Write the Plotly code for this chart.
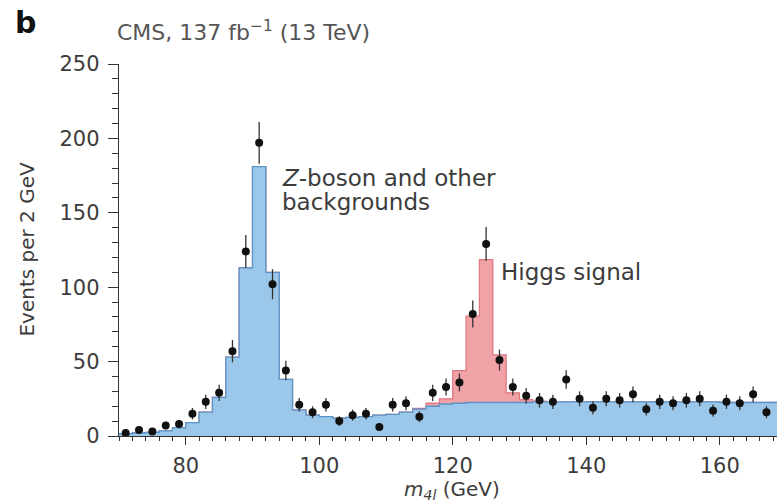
import plotly.graph_objects as go

# ---- data ----
bin_left_edges = list(range(70, 170, 2))          # 2 GeV bins, 70..170
bin_centers = [e + 1 for e in bin_left_edges]

background = [1.5, 2, 2.5, 3.5, 5.5, 9, 16, 26, 53, 113,
              181, 110, 38, 17.5, 14, 13, 12, 12.5, 13, 14,
              14.5, 16, 18, 20, 21.5, 22, 22.5, 22.5, 22.5, 22.5,
              22.5, 23, 23, 23, 23, 23, 23, 23, 23, 23,
              23, 23, 23, 23, 23, 22.5, 22.5, 22.5, 22.5, 22.5]

signal = [0, 0, 0, 0, 0, 0, 0, 0, 0, 0,
          0, 0, 0, 0, 0, 0, 0, 0, 0, 0,
          0, 0, 0.5, 2, 3.5, 22, 58, 96, 32, 6.5,
          2, 0.5, 0, 0, 0, 0, 0, 0, 0, 0,
          0, 0, 0, 0, 0, 0, 0, 0, 0, 0]

observed = [2, 4, 3, 7, 8, 15, 23, 29, 57, 124,
            197, 102, 44, 21, 16, 21, 10, 14, 15, 6,
            21, 22, 13, 29, 33, 36, 82, 129, 51, 33,
            27, 24, 23, 38, 25, 19, 25, 24, 28, 18,
            23, 22, 24, 25, 17, 23, 22, 28, 16, 32]

obs_err = [1.4, 2.0, 1.7, 2.6, 2.8, 3.9, 4.8, 5.4, 7.5, 11.1,
           14.0, 10.1, 6.6, 4.6, 4.0, 4.6, 3.2, 3.7, 3.9, 2.4,
           4.6, 4.7, 3.6, 5.4, 5.7, 6.0, 9.1, 11.4, 7.1, 5.7,
           5.2, 4.9, 4.8, 6.2, 5.0, 4.4, 5.0, 4.9, 5.3, 4.2,
           4.8, 4.7, 4.9, 5.0, 4.1, 4.8, 4.7, 5.3, 4.0, 5.7]

x_ticks = [80, 100, 120, 140, 160]
y_ticks = [0, 50, 100, 150, 200, 250]

# ---- figure ----
W, H = 777, 504
L, R, T, B = 118.5, 0, 64, 68
PW, PH = W - L - R, H - T - B

def px(xp):
    return (xp - L) / PW

def py(yp):
    return (H - B - yp) / PH

step_x = bin_left_edges + [bin_left_edges[-1] + 2]
total = [b + s for b, s in zip(background, signal)]
total_y = total + [total[-1]]
bg_y = background + [background[-1]]

TXT = "#3c3c3c"
FONT = "DejaVu Sans"

fig = go.Figure()
fig.add_trace(go.Scatter(x=step_x, y=total_y, mode="lines", line_shape="hv",
                         line=dict(color="#e07880", width=1.3),
                         fill="tozeroy", fillcolor="#f0a2a6", hoverinfo="skip"))
fig.add_trace(go.Scatter(x=step_x, y=bg_y, mode="lines", line_shape="hv",
                         line=dict(color="#5a94c8", width=1.3),
                         fill="tozeroy", fillcolor="#9bc8ea", hoverinfo="skip"))
fig.add_trace(go.Scatter(x=bin_centers, y=observed, mode="markers",
                         marker=dict(color="#111111", size=8),
                         error_y=dict(type="data", array=obs_err, color="#333333",
                                      thickness=1.3, width=0),
                         cliponaxis=False, hoverinfo="skip"))

fig.update_layout(
    width=W, height=H,
    margin=dict(l=L, r=R, t=T, b=B),
    paper_bgcolor="white", plot_bgcolor="white",
    showlegend=False,
    font=dict(family=FONT, color=TXT),
    xaxis=dict(range=[70, 70 + PW / 6.68], tickvals=x_ticks,
               ticktext=[str(v) for v in x_ticks],
               ticks="outside", ticklen=8, tickwidth=1.4, tickcolor="#333",
               showline=True, linecolor="#333", linewidth=1.4,
               showgrid=False, zeroline=False,
               tickfont=dict(size=21, color=TXT, family=FONT),
               ticklabelstandoff=3,
               minor=dict(dtick=2, tick0=70, ticks="outside", ticklen=4,
                          tickwidth=1.1, tickcolor="#333", showgrid=False)),
    yaxis=dict(range=[0, 250], tickvals=y_ticks,
               ticktext=[str(v) for v in y_ticks],
               ticks="outside", ticklen=10, tickwidth=1.4, tickcolor="#333",
               showline=True, linecolor="#333", linewidth=1.4,
               showgrid=False, zeroline=False,
               tickfont=dict(size=21, color=TXT, family=FONT),
               ticklabelstandoff=4,
               minor=dict(dtick=10, tick0=0, ticks="outside", ticklen=6,
                          tickwidth=1.1, tickcolor="#333", showgrid=False)),
)

ann = [
    dict(text="<b>b</b>", x=px(12), y=py(22), xanchor="left", yanchor="middle",
         font=dict(size=30, color="#111", family=FONT)),
    dict(text="CMS, 137 fb<sup>\u22121</sup> (13 TeV)", x=px(114), y=py(31),
         xanchor="left", yanchor="middle", font=dict(size=22, color="#555")),
    dict(text="<i>Z</i>-boson and other", x=px(280), y=py(178),
         xanchor="left", yanchor="middle", font=dict(size=23, color=TXT)),
    dict(text="backgrounds", x=px(280), y=py(202),
         xanchor="left", yanchor="middle", font=dict(size=23, color=TXT)),
    dict(text="Higgs signal", x=px(499), y=py(272),
         xanchor="left", yanchor="middle", font=dict(size=23, color=TXT)),
    dict(text="Events per 2 GeV", x=px(26), y=py(249), textangle=-90,
         xanchor="center", yanchor="middle", font=dict(size=20, color=TXT)),
    dict(text="<i>m</i><sub><i>4l</i></sub> (GeV)", x=px(452), y=py(490),
         xanchor="center", yanchor="middle", font=dict(size=20, color=TXT)),
]
for a in ann:
    a.update(xref="paper", yref="paper", showarrow=False)
    fig.add_annotation(**a)

fig.write_html(
    "out.html",
    config={"displayModeBar": False},
    post_script="document.body.style.margin='0';document.body.style.overflow='hidden';",
)
